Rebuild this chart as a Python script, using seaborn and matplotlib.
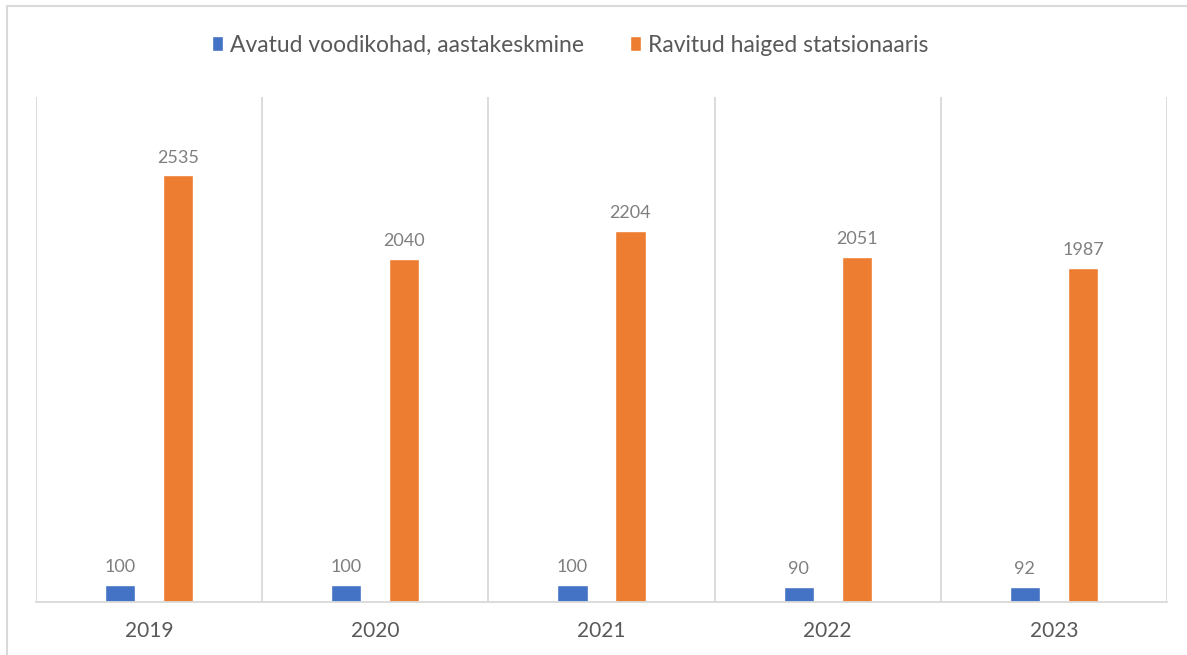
import pandas as pd
import matplotlib.pyplot as plt
import seaborn as sns
from matplotlib.lines import Line2D

years = ['2019', '2020', '2021', '2022', '2023']
series_names = ['Avatud voodikohad, aastakeskmine', 'Ravitud haiged statsionaaris']
beds = [100, 100, 100, 90, 92]
patients = [2535, 2040, 2204, 2051, 1987]
colors = ['#4472C4', '#ED7D31']

df = pd.DataFrame({
    'Aasta': years * 2,
    'Seeria': [series_names[0]] * len(years) + [series_names[1]] * len(years),
    'Väärtus': beds + patients,
})

sns.set_style('white')
plt.rcParams['font.family'] = ['Lato', 'DejaVu Sans']

fig = plt.figure(figsize=(11.87, 6.55), dpi=100)
ax = fig.add_axes([36 / 1187, 53 / 655, 1131 / 1187, 505 / 655])

sns.barplot(data=df, x='Aasta', y='Väärtus', hue='Seeria', order=years,
            hue_order=series_names, palette=colors, width=0.513, gap=0.48,
            saturation=1, ax=ax, legend=True)

# data labels
for cont in ax.containers:
    ax.bar_label(cont, fmt='%d', padding=7, fontsize=13, color='#7F7F7F')

ax.set_ylim(0, 3000)
ax.set_xlim(-0.5, 4.5)
ax.set_yticks([])
ax.set_xlabel('')
ax.set_ylabel('')

# vertical separators between categories
ax.set_xticks([i - 0.5 for i in range(len(years) + 1)], minor=True)
ax.grid(True, axis='x', which='minor', color='#D9D9D9', linewidth=1.3)
ax.grid(False, axis='x', which='major')
ax.tick_params(axis='x', which='both', length=0)
ax.tick_params(axis='x', which='major', pad=14, labelsize=15, labelcolor='#595959')

for side in ['top', 'right', 'left']:
    ax.spines[side].set_visible(False)
ax.spines['bottom'].set_color('#D9D9D9')
ax.spines['bottom'].set_linewidth(1.3)

handles, labels = ax.get_legend_handles_labels()
ax.get_legend().remove()
fig.legend(handles, labels, loc='center', bbox_to_anchor=(570 / 1187, 1 - 45 / 655),
           ncol=2, frameon=False, fontsize=16.5, labelcolor='#595959',
           handlelength=0.5, handleheight=0.65, handletextpad=0.3, columnspacing=2.0)

# chart area border (top and left edges visible)
fig.add_artist(Line2D([7 / 1187, 1.0], [1 - 6 / 655, 1 - 6 / 655], color='#D9D9D9', linewidth=1.5))
fig.add_artist(Line2D([7 / 1187, 7 / 1187], [0.0, 1 - 6 / 655], color='#D9D9D9', linewidth=1.5))

fig.savefig('out.png', dpi=100, facecolor='white')
